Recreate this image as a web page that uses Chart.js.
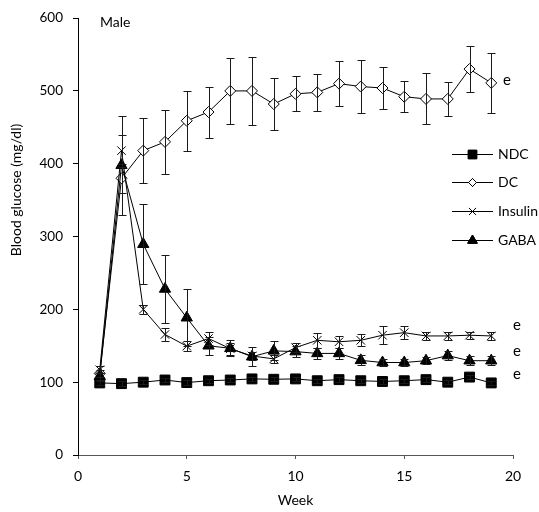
<!DOCTYPE html>
<html>
<head>
<meta charset="utf-8">
<script src="https://cdn.jsdelivr.net/npm/chart.js"></script>
<style>
  body { margin: 0; background: #fff; }
  #wrap { position: relative; width: 539px; height: 512px; }
</style>
</head>
<body>
<div id="wrap"><canvas id="chart" width="539" height="512"></canvas></div>
<script>
// data (weeks 1..19)
var weeks = [1, 2, 3, 4, 5, 6, 7, 8, 9, 10, 11, 12, 13, 14, 15, 16, 17, 18, 19];
var seriesNames = ["NDC", "DC", "Insulin", "GABA"];

var ndc = [99, 98, 100, 103, 99.5, 102, 103, 104.5, 104, 104.5, 102, 103.5, 102, 101, 102, 103.5, 100, 107, 99];
var ndcErr = [3, 3, 3, 3, 3, 3, 3, 3, 3, 3, 3, 3, 3, 3, 3, 3, 3, 3, 3];

var dc = [112, 380, 418, 430, 459, 471, 500, 500, 482, 496, 498, 510, 506, 504, 492, 489, 489, 530, 511];
var dcErr = [5, 20, 45, 44, 41, 35, 45, 47, 36, 24, 25, 31, 37, 29, 21, 35, 23, 31, 41];

var insulin = [117, 418, 200, 165.5, 149.5, 160, 146, 136, 132, 147.5, 157.5, 155.5, 157.5, 164.5, 168, 163.5, 163.5, 164.5, 163.5];
var insulinErr = [5, 22, 6, 9, 7, 9, 8, 6, 5, 6, 10, 8, 8, 12, 9, 5, 5, 5, 5];

var gaba = [108, 398, 289.5, 228, 188.5, 150, 146.5, 135, 143, 142, 139.5, 139.5, 130, 127, 127, 129.5, 136.5, 129.5, 129.5];
var gabaErr = [5, 68, 55, 47, 39, 12, 11, 13, 13, 8, 7, 7, 7, 5, 5, 5, 6, 6, 6];

var xTicks = [0, 5, 10, 15, 20];
var yTicks = [0, 100, 200, 300, 400, 500, 600];

var FONT = "Lato, 'Open Sans', sans-serif";

function points(ys) {
  return weeks.map(function (w, i) { return { x: w, y: ys[i] }; });
}

var styles = [
  { pointStyle: "rect", pointRadius: 7, fill: "#000", legendRadius: 6 },
  { pointStyle: "rectRot", pointRadius: 5.5, fill: "#fff", legendRadius: 4 },
  { pointStyle: "crossRot", pointRadius: 6, fill: "#000", legendRadius: 5 },
  { pointStyle: "triangle", pointRadius: 6.5, fill: "#000", legendRadius: 5.5 },
];
var values = [ndc, dc, insulin, gaba];
var errors = [ndcErr, dcErr, insulinErr, gabaErr];

var datasets = seriesNames.map(function (name, i) {
  return {
    label: name,
    data: points(values[i]),
    errors: errors[i],
    borderColor: "#000",
    borderWidth: 1,
    backgroundColor: styles[i].fill,
    pointStyle: styles[i].pointStyle,
    pointRadius: styles[i].pointRadius,
    pointBackgroundColor: styles[i].fill,
    pointBorderColor: "#000",
    pointBorderWidth: 1,
    tension: 0,
    fill: false,
    order: 3 - i,
  };
});

// error bars, drawn with the chart's own scales
var errorBars = {
  id: "errorBars",
  afterDatasetsDraw: function (chart) {
    var ctx = chart.ctx;
    var xs = chart.scales.x, ys = chart.scales.y;
    ctx.save();
    ctx.strokeStyle = "#1a1a1a";
    ctx.lineWidth = 1;
    chart.data.datasets.forEach(function (ds) {
      ds.data.forEach(function (p, j) {
        var e = ds.errors[j];
        var x = Math.round(xs.getPixelForValue(p.x)) + 0.5;
        var top = Math.round(ys.getPixelForValue(p.y + e)) + 0.5;
        var bot = Math.round(ys.getPixelForValue(p.y - e)) + 0.5;
        ctx.beginPath();
        ctx.moveTo(x, top); ctx.lineTo(x, bot);
        ctx.moveTo(x - 4, top); ctx.lineTo(x + 4, top);
        ctx.moveTo(x - 4, bot); ctx.lineTo(x + 4, bot);
        ctx.stroke();
      });
    });
    ctx.restore();
  },
};

// legend, y title and text labels
var extras = {
  id: "extras",
  afterDraw: function (chart) {
    var ctx = chart.ctx;
    ctx.save();
    ctx.fillStyle = "#000";
    ctx.font = "14px " + FONT;
    ctx.textBaseline = "middle";

    // legend
    var rows = [154, 182, 211, 240];
    chart.data.datasets.forEach(function (ds, i) {
      var y = rows[i] + 0.5;
      ctx.strokeStyle = "#000";
      ctx.lineWidth = 1;
      ctx.beginPath();
      ctx.moveTo(452, y); ctx.lineTo(493, y);
      ctx.stroke();
      ctx.fillStyle = styles[i].fill;
      Chart.helpers.drawPoint(ctx, {
        pointStyle: ds.pointStyle, radius: styles[i].legendRadius,
        borderWidth: 1, rotation: 0,
      }, 472.5, y);
      ctx.fill();
      ctx.stroke();
      ctx.fillStyle = "#000";
      ctx.textAlign = "left";
      ctx.fillText(ds.label, 498, rows[i]);
    });

    // panel label
    ctx.textAlign = "left";
    ctx.fillText("Male", 100, 22);

    // significance marks
    ctx.font = "15px " + FONT;
    ctx.fillText("e", 503, 80);
    ctx.fillText("e", 513, 325);
    ctx.fillText("e", 513, 351);
    ctx.fillText("e", 513, 374);

    // y axis title
    ctx.font = "14px " + FONT;
    ctx.translate(16, 190);
    ctx.rotate(-Math.PI / 2);
    ctx.textAlign = "center";
    ctx.fillText("Blood glucose (mg/dl)", 0, 0);
    ctx.restore();
  },
};

new Chart(document.getElementById("chart"), {
  type: "line",
  data: { datasets: datasets },
  options: {
    responsive: false,
    animation: false,
    layout: { padding: { top: 14, right: 26, left: 0, bottom: 0 } },
    plugins: { legend: { display: false }, tooltip: { enabled: false } },
    scales: {
      x: {
        type: "linear",
        min: 0,
        max: 20,
        afterBuildTicks: function (axis) {
          axis.ticks = xTicks.map(function (v) { return { value: v }; });
        },
        afterFit: function (axis) { axis.height = 57; },
        grid: { drawOnChartArea: false, drawTicks: true, tickLength: 4, color: "#555" },
        border: { color: "#555", width: 1 },
        ticks: { color: "#000", font: { family: FONT, size: 14 }, padding: 9, maxRotation: 0 },
        title: {
          display: true,
          text: "Week",
          color: "#000",
          font: { family: FONT, size: 14 },
          padding: { top: 0, bottom: 3 },
        },
      },
      y: {
        type: "linear",
        min: 0,
        max: 600,
        afterBuildTicks: function (axis) {
          axis.ticks = yTicks.map(function (v) { return { value: v }; });
        },
        afterFit: function (axis) { axis.width = 78; },
        grid: { drawOnChartArea: false, drawTicks: true, tickLength: 5, color: "#000" },
        border: { color: "#000", width: 1 },
        ticks: { color: "#000", font: { family: FONT, size: 13.5 }, padding: 10 },
      },
    },
  },
  plugins: [errorBars, extras],
});
</script>
</body>
</html>
